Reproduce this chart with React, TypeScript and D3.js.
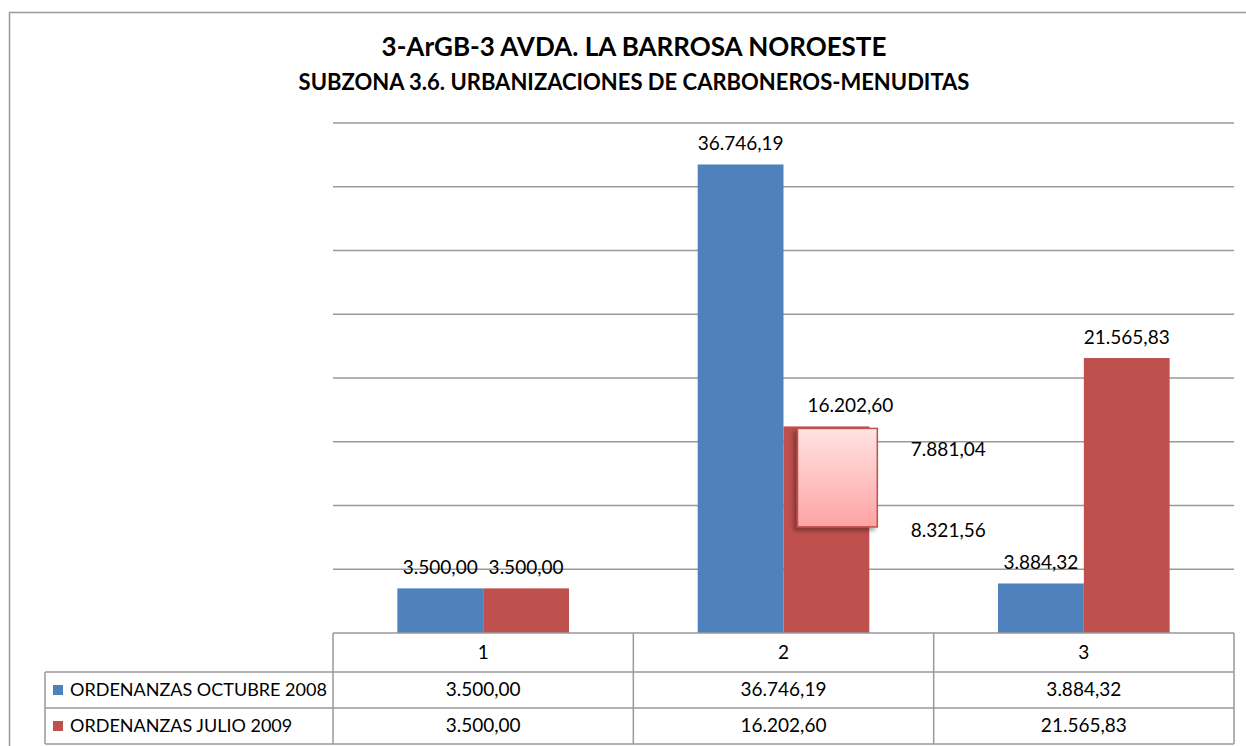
import React from "react";
import * as d3 from "d3";

const categories = ["1", "2", "3"];
const seriesNames = ["ORDENANZAS OCTUBRE 2008", "ORDENANZAS JULIO 2009"];
const octubre2008 = [3500.0, 36746.19, 3884.32];
const julio2009 = [3500.0, 16202.6, 21565.83];
// split of the highlighted bar (category 2, julio 2009)
const splitLower = 8321.56;
const splitUpper = 7881.04;
const yTicks = [0, 5000, 10000, 15000, 20000, 25000, 30000, 35000, 40000];

const colors = ["#4f81bd", "#c0504d"];
const W = 1246;
const H = 746;
const FONT = "Lato, 'Liberation Sans', sans-serif";
const NUM = 19;

const fmt = (v: number) => {
  const s = v.toFixed(2).split(".");
  return s[0].replace(/\B(?=(\d{3})+(?!\d))/g, ".") + "," + s[1];
};

export default function App() {
  const left = 333;
  const right = 1234;
  const top = 123;
  const bottom = 633;

  const x = d3.scaleBand<string>().domain(categories).range([left, right]);
  const inner = d3
    .scaleBand<number>()
    .domain([0, 1])
    .range([0, x.bandwidth()])
    .paddingOuter(0.75)
    .paddingInner(0);
  const y = d3.scaleLinear().domain([0, 40000]).range([bottom, top]);

  const series = [octubre2008, julio2009];
  const rowY = [633, 672, 708, 744];

  const hx = (x("2") as number) + (inner(1) as number);
  const boxX = hx + 14;
  const boxW = inner.bandwidth() - 6;
  const boxTop = y(splitLower + splitUpper) + 2;
  const boxBot = y(splitLower);

  return (
    <div style={{ position: "fixed", left: 0, top: 0 }}>
      <svg width={W} height={H} style={{ display: "block", background: "#fff" }}>
        <defs>
          <linearGradient id="pink" x1="0" y1="0" x2="0" y2="1">
            <stop offset="0" stopColor="#ffe3e3" />
            <stop offset="1" stopColor="#ffa3a3" />
          </linearGradient>
          <filter id="shadow" x="-20%" y="-20%" width="140%" height="140%">
            <feDropShadow dx="-3" dy="3" stdDeviation="2" floodColor="#000" floodOpacity="0.35" />
          </filter>
        </defs>
        <rect x={9.5} y={12.5} width={W} height={H} fill="none" stroke="#999" strokeWidth={1.5} />

        <text x={634} y={56} textAnchor="middle" fontFamily={FONT} fontWeight="bold" fontSize={26} fill="#000">
          3-ArGB-3 AVDA. LA BARROSA NOROESTE
        </text>
        <text x={634} y={90} textAnchor="middle" fontFamily={FONT} fontWeight="bold" fontSize={22} fill="#000">
          SUBZONA 3.6. URBANIZACIONES DE CARBONEROS-MENUDITAS
        </text>

        {yTicks.slice(1).map((t) => (
          <line key={t} x1={left} x2={right} y1={y(t)} y2={y(t)} stroke="#999" strokeWidth={1.5} />
        ))}

        {series.map((vals, si) =>
          vals.map((v, ci) => {
            const bx = (x(categories[ci]) as number) + (inner(si) as number);
            return (
              <rect key={`${si}-${ci}`} x={bx} y={y(v)} width={inner.bandwidth()} height={bottom - y(v)} fill={colors[si]} />
            );
          })
        )}

        {/* highlighted portion */}
        <rect x={boxX} y={boxTop} width={boxW} height={boxBot - boxTop} fill="url(#pink)" stroke="#c0504d" strokeWidth={1.5} filter="url(#shadow)" />

        {series.map((vals, si) =>
          vals.map((v, ci) => {
            const bx = (x(categories[ci]) as number) + (inner(si) as number) + inner.bandwidth() / 2;
            const dx = si === 1 && ci === 1 ? 24 : 0;
            return (
              <text key={`l${si}-${ci}`} x={bx + dx} y={y(v) - 14} textAnchor="middle" fontFamily={FONT} fontSize={NUM} fill="#000">
                {fmt(v)}
              </text>
            );
          })
        )}
        <text x={hx + inner.bandwidth() + 79} y={boxTop + 28} textAnchor="middle" fontFamily={FONT} fontSize={NUM} fill="#000">
          {fmt(splitUpper)}
        </text>
        <text x={hx + inner.bandwidth() + 79} y={y(splitLower) + 10} textAnchor="middle" fontFamily={FONT} fontSize={NUM} fill="#000">
          {fmt(splitLower)}
        </text>

        {/* data table */}
        <g stroke="#999" strokeWidth={1.5} fill="none">
          <line x1={left} x2={right} y1={rowY[0]} y2={rowY[0]} />
          {rowY.slice(1).map((ry) => (
            <line key={ry} x1={45} x2={right} y1={ry} y2={ry} />
          ))}
          <line x1={45} x2={45} y1={rowY[1]} y2={rowY[3]} />
          {[...categories.map((c) => x(c) as number), right].map((vx) => (
            <line key={vx} x1={vx} x2={vx} y1={rowY[0]} y2={rowY[3]} />
          ))}
        </g>
        {categories.map((c) => (
          <text key={c} x={(x(c) as number) + x.bandwidth() / 2} y={(rowY[0] + rowY[1]) / 2 + 6} textAnchor="middle" fontFamily={FONT} fontSize={NUM} fill="#000">
            {c}
          </text>
        ))}
        {series.map((vals, si) => (
          <g key={`row${si}`}>
            <rect x={53} y={(rowY[si + 1] + rowY[si + 2]) / 2 - 5} width={10} height={10} fill={colors[si]} />
            <text x={70} y={(rowY[si + 1] + rowY[si + 2]) / 2 + 6} fontFamily={FONT} fontSize={18} fill="#000">
              {seriesNames[si]}
            </text>
            {vals.map((v, ci) => (
              <text key={ci} x={(x(categories[ci]) as number) + x.bandwidth() / 2} y={(rowY[si + 1] + rowY[si + 2]) / 2 + 6} textAnchor="middle" fontFamily={FONT} fontSize={NUM} fill="#000">
                {fmt(v)}
              </text>
            ))}
          </g>
        ))}
      </svg>
    </div>
  );
}
